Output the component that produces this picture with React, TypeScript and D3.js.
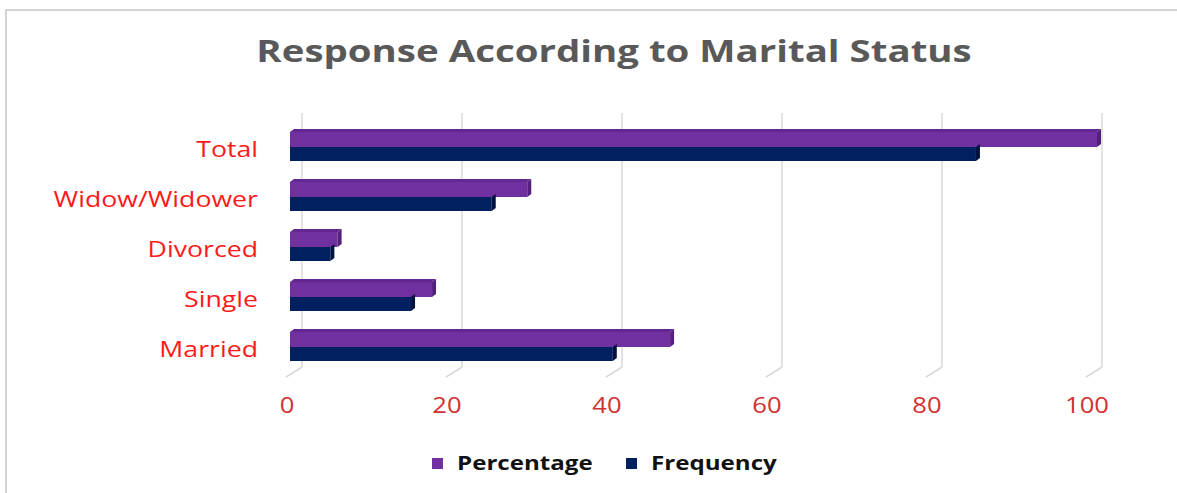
import React from "react";
import * as d3 from "d3";

const categories = ["Total", "Widow/Widower", "Divorced", "Single", "Married"];
const percentage = [100, 29.4, 5.9, 17.6, 47.1];
const frequency = [85, 25, 5, 15, 40];
const ticks = [0, 20, 40, 60, 80, 100];
const seriesNames = ["Percentage", "Frequency"];
const seriesColors = ["#7030a0", "#002060"];
const capColors = ["#55207d", "#001340"];
const topColors = ["#62288f", "#001a50"];

const font = "'Open Sans', 'Liberation Sans', sans-serif";

function T(props: {
  x: number; y: number; sx: number; size: number; anchor?: string; weight?: number; fill: string; children: any;
}) {
  return (
    <text
      transform={`translate(${props.x},${props.y}) scale(${props.sx},1)`}
      textAnchor={props.anchor || "start"}
      fontFamily={font}
      fontWeight={props.weight || 400}
      fontSize={props.size}
      fill={props.fill}
    >
      {props.children}
    </text>
  );
}

export default function App() {
  const W = 1177, H = 493;
  const y = d3.scaleBand<string>().domain(categories).range([125, 375]);
  const xBar = d3.scaleLinear().domain([0, 100]).range([290, 1097]);
  const xBack = d3.scaleLinear().domain([0, 100]).range([302, 1102]);
  const xFront = d3.scaleLinear().domain([0, 100]).range([286, 1086]);
  const dx = 4, dy = 3;

  const bar = (v: number, top: number, h: number, s: number, drawTop: boolean, key: string) => {
    const x0 = xBar(0), x1 = xBar(v);
    return (
      <g key={key}>
        {drawTop && (
          <polygon
            points={`${x0},${top} ${x0 + dx},${top - dy} ${x1 + dx},${top - dy} ${x1},${top}`}
            fill={topColors[s]}
          />
        )}
        <rect x={x0} y={top} width={x1 - x0} height={h} fill={seriesColors[s]} />
        <polygon
          points={`${x1},${top} ${x1 + dx},${top - dy} ${x1 + dx},${top + h - dy} ${x1},${top + h}`}
          fill={capColors[s]}
        />
      </g>
    );
  };

  return (
    <svg width={W} height={H} style={{ position: "absolute", left: 0, top: 0, background: "#fff" }}>
      <rect x={6} y={10} width={W + 10} height={H} fill="#fff" stroke="#d4d4d4" strokeWidth={2} />
      <T x={614} y={62} sx={1.24} size={31} anchor="middle" weight={700} fill="#595959">
        Response According to Marital Status
      </T>
      {ticks.map((t) => (
        <g key={"g" + t}>
          <line x1={xBack(t)} x2={xBack(t)} y1={113} y2={367} stroke="#d9d9d9" strokeWidth={1.5} />
          <line x1={xBack(t)} x2={xFront(t)} y1={367} y2={377} stroke="#d9d9d9" strokeWidth={1.5} />
          <T x={xFront(t) + 1} y={413} sx={1.22} size={21} anchor="middle" fill="#d03030">
            {t}
          </T>
        </g>
      ))}
      {categories.map((c, i) => {
        const cy = (y(c) as number) + y.bandwidth() / 2 - 1;
        return (
          <g key={c}>
            {bar(percentage[i], cy - 17, 15, 0, true, "p")}
            {bar(frequency[i], cy - 2, 14, 1, false, "f")}
            <T x={258} y={cy + 8} sx={1.27} size={21} anchor="end" fill="#ff1a1a">
              {c}
            </T>
          </g>
        );
      })}
      {seriesNames.map((n, i) => {
        const lx = [432, 626][i];
        return (
          <g key={n}>
            <rect x={lx} y={458} width={11} height={11} fill={seriesColors[i]} />
            <T x={lx + 25} y={470} sx={1.27} size={19} weight={700} fill="#111">
              {n}
            </T>
          </g>
        );
      })}
    </svg>
  );
}
